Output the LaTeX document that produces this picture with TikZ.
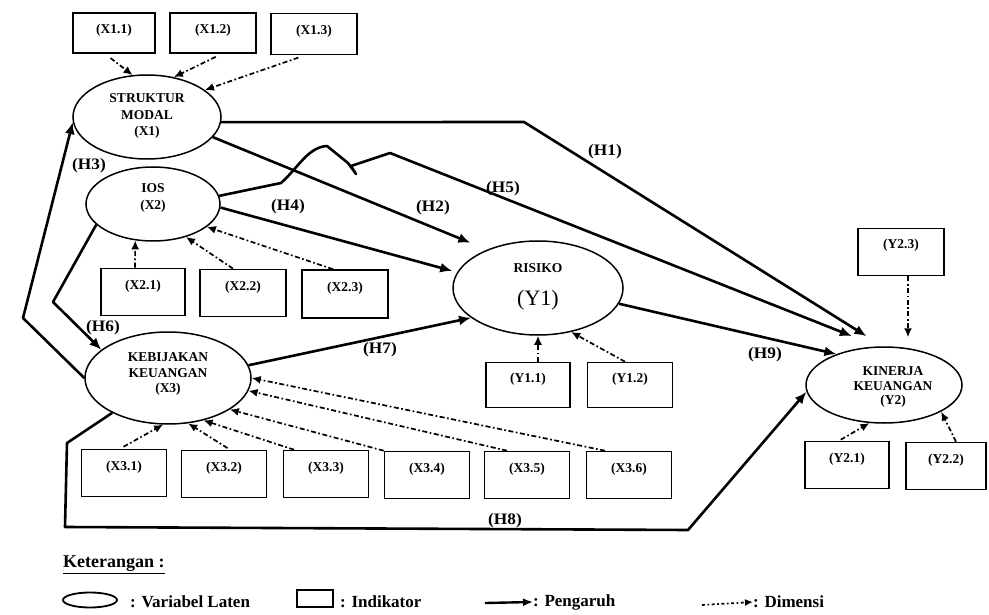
\documentclass[tikz,border=0pt]{standalone}
\usepackage{fontspec}
\setmainfont{Liberation Serif}
\newfontfamily\dg{Liberation Serif}
\newfontfamily\dgs[FakeStretch=1.08]{Liberation Serif}
\usetikzlibrary{shapes.geometric,arrows.meta}
\newcommand\indbox[7]{%
  \node[ind,minimum width=#4pt,minimum height=#5pt] (#1) at (#2,#3) {};
  \node[txt] (#1t) at (#2,#3-#6) {#7};}
\begin{document}
\begin{tikzpicture}[x=1pt,y=-1pt,
  lat/.style={draw,ellipse,line width=1.5pt,inner sep=0pt},
  ind/.style={draw,rectangle,line width=1.6pt,inner sep=0pt},
  txt/.style={font=\dg\bfseries\fontsize{13.5}{16.5}\selectfont,align=center,inner sep=0pt},
  lbl/.style={font=\dgs\bfseries\fontsize{16}{18}\selectfont,inner sep=0pt},
  leg/.style={font=\dg\bfseries\fontsize{17}{19}\selectfont,inner sep=0pt,anchor=west},
  eff/.style={line width=2.6pt,line join=round,-{Latex[length=12pt,width=10pt]}},
  dim/.style={line width=1.7pt,dash pattern=on 5pt off 2.5pt on 1.7pt off 2.5pt,-{Latex[length=9pt,width=8pt]}},
]
\useasboundingbox (0,0) rectangle (989,615);
\fill[white] (0,0) rectangle (989,615);

% latent variables
\node[lat,minimum width=148pt,minimum height=84pt] (SM) at (147,117) {};
\node[txt] (SMt) at (147,116) {STRUKTUR\\MODAL\\(X1)};
\node[lat,minimum width=134pt,minimum height=74pt] (IOS) at (153,204) {};
\node[txt] (IOSt) at (153,198) {IOS\\(X2)};
\node[lat,minimum width=166pt,minimum height=92pt] (KK) at (168,378) {};
\node[txt,font=\dg\bfseries\fontsize{13.5}{15.5}\selectfont] (KKt) at (168,374) {KEBIJAKAN\\KEUANGAN\\(X3)};
\node[lat,minimum width=170pt,minimum height=94pt] (RIS) at (538,288) {};
\node[txt] (RISt) at (538,268) {RISIKO};
\node[inner sep=0pt,font=\fontsize{22}{24}\selectfont] (RISy) at (538,300) {(Y1)};
\node[lat,minimum width=156pt,minimum height=76pt] (KIN) at (884,385) {};
\node[txt,font=\dg\bfseries\fontsize{13.5}{14.5}\selectfont] (KINt) at (893,387) {KINERJA\\KEUANGAN\\(Y2)};

% indicators
\indbox{X11}{114}{33}{82}{40}{3}{(X1.1)}
\indbox{X12}{213}{33}{86}{40}{3}{(X1.2)}
\indbox{X13}{314}{34}{86}{41}{3}{(X1.3)}
\indbox{X21}{143}{292}{84}{47}{6}{(X2.1)}
\indbox{X22}{243}{293}{86}{47}{6}{(X2.2)}
\indbox{X23}{345}{294}{86}{48}{6}{(X2.3)}
\indbox{X31}{124}{473}{85}{47}{6}{(X3.1)}
\indbox{X32}{224}{474}{85}{47}{6}{(X3.2)}
\indbox{X33}{326}{474}{85}{47}{6}{(X3.3)}
\indbox{X34}{427}{475}{85}{47}{6}{(X3.4)}
\indbox{X35}{527}{475}{85}{47}{6}{(X3.5)}
\indbox{X36}{629}{475}{85}{47}{6}{(X3.6)}
\indbox{Y11}{528}{385}{84}{45}{6}{(Y1.1)}
\indbox{Y12}{630}{385}{85}{45}{6}{(Y1.2)}
\indbox{Y23}{901}{252}{86}{47}{7}{(Y2.3)}
\indbox{Y21}{847}{465}{84}{47}{6}{(Y2.1)}
\indbox{Y22}{946}{466}{80}{47}{6}{(Y2.2)}

% bend points
\coordinate (h1a) at (524,122);
\coordinate (h5a) at (281,183);
\coordinate (h5b) at (327,146);
\coordinate (h5c) at (348,163);
\coordinate (h5d) at (356,174);
\coordinate (h5e) at (351,166);
\coordinate (h5f) at (390,153);
\coordinate (h3a) at (23,318);
\coordinate (h6a) at (53,302);
\coordinate (h8a) at (67,443);
\coordinate (h8b) at (65,527);
\coordinate (h8c) at (688,530);

% structural paths
\draw[eff,shorten >=19pt] (SM.-4) -- (h1a) -- (KIN.92);
\draw[eff,shorten >=28pt] (IOS.7) -- (h5a) .. controls (298,168) and (308,147) .. (h5b) -- (h5c) -- (h5d) -- (h5e) -- (h5f) -- (KIN.99);
\draw[eff,shorten >=18pt] (SM.-17) -- (RIS.143.5);
\draw[eff,shorten >=5pt] (IOS.-3) -- (RIS.169);
\draw[eff] (KK.9.5) -- (RIS.204);
\draw[eff] (RIS.-11) -- (KIN.147);
\draw[eff] (KK.180) -- (h3a) -- (SM.184);
\draw[eff] (IOS.200) -- (h6a) -- (KK.157);
\draw[eff] (KK.212) -- (h8a) -- (h8b) -- (h8c) -- (KIN.185);

% measurement paths
\draw[dim,shorten <=7pt] ([xshift=-9pt]X11.south) -- (SM.109);
\draw[dim,shorten <=7pt] ([xshift=9pt]X12.south) -- (SM.56);
\draw[dim,shorten <=7pt] ([xshift=-9pt]X13.south) -- (SM.25);
\draw[dim] ([xshift=-8pt]X21.north) -- (IOS.244);
\draw[dim] ([xshift=-10pt]X22.north) -- (IOS.-45);
\draw[dim] ([xshift=-12pt]X23.north) -- (IOS.-23);
\draw[dim,shorten <=4pt] ([xshift=-4pt]X31.north) -- (KK.264);
\draw[dim,shorten <=3pt] ([xshift=6pt]X32.north) -- (KK.-66);
\draw[dim] ([xshift=-32pt]X33.north) -- (KK.-50);
\draw[dim] (X34.north west) -- (KK.-27);
\draw[dim] ([xshift=-20pt]X35.north) -- (KK.-9);
\draw[dim] ([xshift=-24pt]X36.north) -- (KK.0);
\draw[dim] ([xshift=10pt]Y11.north) -- (RIS.south);
\draw[dim] ([xshift=-5pt]Y12.north) -- (RIS.-53);
\draw[dim,shorten >=9pt] ([xshift=7pt]Y23.south) -- ([xshift=7pt]Y23.south |- KIN.north);
\draw[dim,shorten <=2pt] ([xshift=-8pt]Y21.north) -- (KIN.249);
\draw[dim] ([xshift=10pt]Y22.north) -- (KIN.-25);

% path labels
\node[lbl] (H1) at (605,152) {(H1)};
\node[lbl] (H2) at (433,208) {(H2)};
\node[lbl] (H3) at (89,166) {(H3)};
\node[lbl] (H4) at (288,207) {(H4)};
\node[lbl] (H5) at (503,189) {(H5)};
\node[lbl] (H6) at (103,328) {(H6)};
\node[lbl] (H7) at (380,350) {(H7)};
\node[lbl] (H8) at (505,521) {(H8)};
\node[lbl] (H9) at (765,355) {(H9)};

% legend
\node[leg,font=\dg\bfseries\fontsize{18}{20}\selectfont] (ket) at (63,565) {\underline{Keterangan :}};
\node[lat,line width=1.8pt,minimum width=54pt,minimum height=15pt] (legE) at (90,600) {};
\node[leg] (legEt) at (130,602) {: Variabel Laten};
\node[ind,line width=1.8pt,minimum width=36pt,minimum height=17pt] (legB) at (315,598.5) {};
\node[leg] (legBt) at (340,602) {: Indikator};
\coordinate (legA) at (485,603);
\node[leg] (legAt) at (533,602) {: Pengaruh};
\draw[eff,line width=2.4pt,-{Latex[length=10pt,width=8pt]}] (legA) -- (legAt.west);
\coordinate (legD) at (702,605);
\node[leg] (legDt) at (753,602) {: Dimensi};
\draw[line width=1.7pt,dash pattern=on 3pt off 2.5pt on 1.7pt off 2.5pt,-{Latex[length=8pt,width=7pt]}] (legD) -- (legDt.west);
\end{tikzpicture}
\end{document}
